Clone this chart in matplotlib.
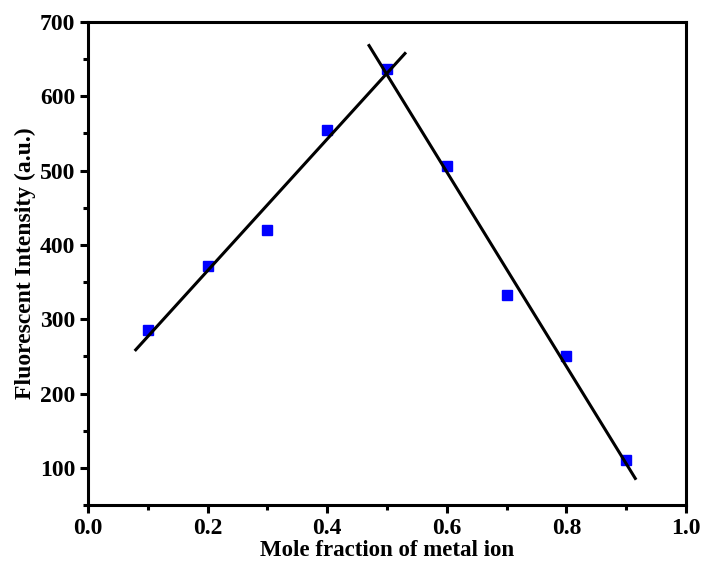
import numpy as np
import matplotlib
matplotlib.use('Agg')
import matplotlib.pyplot as plt
from matplotlib.ticker import MultipleLocator

plt.rcParams['font.family'] = ['Liberation Serif', 'DejaVu Serif']
plt.rcParams['font.weight'] = 'bold'

# Job's plot data
mole_fraction = [0.1, 0.2, 0.3, 0.4, 0.5, 0.6, 0.7, 0.8, 0.9]
intensity = [286, 371, 420, 555, 637, 506, 332, 251, 110]

# linear fits of the two branches
x = np.array(mole_fraction)
y = np.array(intensity)
left_fit = np.polyfit(x[:5], y[:5], 1)
right_fit = np.polyfit(x[4:], y[4:], 1)
left_x = np.array([0.08, 0.53])
right_x = np.array([0.47, 0.915])

fig = plt.figure(figsize=(7.03, 5.63), dpi=100, facecolor='#ffffff')
ax = fig.add_axes([0.125, 0.103, 0.851, 0.858])

ax.plot(x, y, 's', color='#0000ff', markersize=7, zorder=2)
ax.plot(left_x, np.polyval(left_fit, left_x), '-', color='black', lw=2.2, zorder=3)
ax.plot(right_x, np.polyval(right_fit, right_x), '-', color='black', lw=2.2, zorder=3)

ax.set_xlim(0, 1.0)
ax.set_ylim(50, 700)
ax.xaxis.set_major_locator(MultipleLocator(0.2))
ax.xaxis.set_minor_locator(MultipleLocator(0.1))
ax.yaxis.set_major_locator(MultipleLocator(100))
ax.yaxis.set_minor_locator(MultipleLocator(50))
ax.xaxis.set_major_formatter(plt.FuncFormatter(lambda v, p: '%.1f' % v))

for sp in ax.spines.values():
    sp.set_linewidth(2.2)
ax.tick_params(which='major', direction='out', length=6, width=2.2, labelsize=17, pad=3)
ax.tick_params(which='minor', direction='out', length=3.5, width=2.2)
ax.tick_params(top=False, right=False, which='both')

ax.set_xlabel('Mole fraction of metal ion', fontsize=16.5, fontweight='bold', labelpad=1)
ax.set_ylabel('Fluorescent Intensity (a.u.)', fontsize=17, fontweight='bold', labelpad=3)

fig.savefig('out.png', dpi=100)
